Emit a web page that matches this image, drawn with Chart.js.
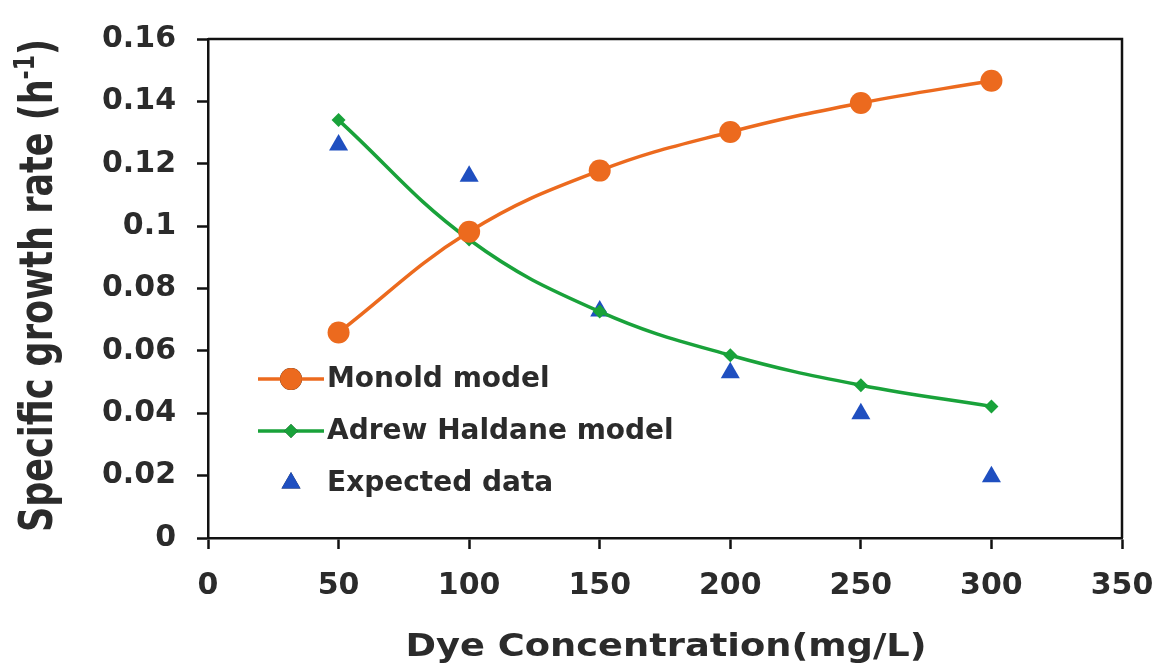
<!DOCTYPE html>
<html>
<head>
<meta charset="utf-8">
<script src="https://cdn.jsdelivr.net/npm/chart.js@4/dist/chart.umd.min.js"></script>
<style>
  html, body { margin: 0; padding: 0; background: #fff; }
  #wrap { width: 1157px; height: 664px; position: relative; }
</style>
</head>
<body>
<div id="wrap"><canvas id="growthChart"></canvas></div>
<script>
const concentrations = [50, 100, 150, 200, 250, 300];
const monodRates = [0.0659, 0.0982, 0.1178, 0.1302, 0.1395, 0.1466];
const haldaneRates = [0.134, 0.0957, 0.0726, 0.0586, 0.049, 0.0422];
const expectedRates = [0.126, 0.116, 0.0728, 0.053, 0.0398, 0.0196];
const seriesLabels = ['Monold model', 'Adrew Haldane model', 'Expected data'];
const yTitleParts = ['Specific growth rate (h', '-1', ')'];
const xTitle = 'Dye Concentration(mg/L)';

const toPoints = (values) => concentrations.map((x, i) => ({ x, y: values[i] }));

const textColor = '#2b2b2b';
const fontFamily = '"DejaVu Sans", "Liberation Sans", Arial, sans-serif';

// box around the plot, legend inside it, axis titles
const framePlugin = {
  id: 'frame',
  afterDraw(chart) {
    const { ctx, chartArea } = chart;
    ctx.save();
    ctx.strokeStyle = '#111';
    ctx.lineWidth = 2.5;
    ctx.beginPath();
    ctx.moveTo(chartArea.left, chartArea.top);
    ctx.lineTo(chartArea.right, chartArea.top);
    ctx.lineTo(chartArea.right, chartArea.bottom);
    ctx.stroke();

    const rowStart = chartArea.top + 340;
    const rowGap = 52;
    chart.data.datasets.forEach((ds, i) => {
      const y = rowStart + i * rowGap;
      const x0 = chartArea.left + 50;
      const x1 = chartArea.left + 116;
      const cx = (x0 + x1) / 2;
      if (ds.showLine !== false) {
        ctx.strokeStyle = ds.borderColor;
        ctx.lineWidth = 3.5;
        ctx.beginPath();
        ctx.moveTo(x0, y);
        ctx.lineTo(x1, y);
        ctx.stroke();
      }
      Chart.helpers.drawPoint(ctx, {
        pointStyle: ds.pointStyle,
        radius: ds.pointRadius,
        borderWidth: 0
      }, cx, y);
      ctx.fillStyle = ds.pointBackgroundColor;
      ctx.fill();
      ctx.fillStyle = textColor;
      ctx.font = 'bold 28px ' + fontFamily;
      ctx.textBaseline = 'middle';
      ctx.textAlign = 'left';
      ctx.fillText(ds.label, x1 + 3, y + 1);
    });

    // x axis title, a little wider than the font
    ctx.save();
    ctx.font = 'bold 32px ' + fontFamily;
    ctx.fillStyle = textColor;
    ctx.textAlign = 'center';
    ctx.textBaseline = 'alphabetic';
    ctx.translate(666, 656);
    ctx.scale(1.15, 1);
    ctx.fillText(xTitle, 0, 0);
    ctx.restore();

    // y axis title with superscript
    const mainFont = 'bold 35px ' + fontFamily;
    const supFont = 'bold 22px ' + fontFamily;
    ctx.font = mainFont;
    const w0 = ctx.measureText(yTitleParts[0]).width;
    const w2 = ctx.measureText(yTitleParts[2]).width;
    ctx.font = supFont;
    const w1 = ctx.measureText(yTitleParts[1]).width;
    const total = w0 + w1 + w2;
    const midY = (chartArea.top + chartArea.bottom) / 2;
    ctx.translate(52, midY - 3);
    ctx.rotate(-Math.PI / 2);
    ctx.scale(1, 1.3);
    ctx.textAlign = 'left';
    ctx.textBaseline = 'alphabetic';
    ctx.fillStyle = textColor;
    let x = -total / 2;
    ctx.font = mainFont;
    ctx.fillText(yTitleParts[0], x, 0);
    x += w0;
    ctx.font = supFont;
    ctx.fillText(yTitleParts[1], x, -14);
    x += w1;
    ctx.font = mainFont;
    ctx.fillText(yTitleParts[2], x, 0);
    ctx.restore();
  }
};

new Chart(document.getElementById('growthChart'), {
  type: 'scatter',
  data: {
    datasets: [
      {
        label: seriesLabels[0],
        data: toPoints(monodRates),
        showLine: true,
        tension: 0.4,
        borderColor: '#ec6a1e',
        backgroundColor: '#ec6a1e',
        pointBackgroundColor: '#ec6a1e',
        pointBorderWidth: 0,
        pointStyle: 'circle',
        pointRadius: 11,
        borderWidth: 3.5
      },
      {
        label: seriesLabels[1],
        data: toPoints(haldaneRates),
        showLine: true,
        tension: 0.4,
        borderColor: '#19a23a',
        backgroundColor: '#19a23a',
        pointBackgroundColor: '#19a23a',
        pointBorderWidth: 0,
        pointStyle: 'rectRot',
        pointRadius: 7,
        borderWidth: 3.5
      },
      {
        label: seriesLabels[2],
        data: toPoints(expectedRates),
        showLine: false,
        borderColor: '#1f4fc0',
        backgroundColor: '#1f4fc0',
        pointBackgroundColor: '#1f4fc0',
        pointBorderWidth: 0,
        pointStyle: 'triangle',
        pointRadius: 11
      }
    ]
  },
  options: {
    responsive: true,
    maintainAspectRatio: false,
    animation: false,
    layout: { padding: { left: 10, right: 35, top: 28, bottom: 0 } },
    plugins: {
      legend: { display: false },
      tooltip: { enabled: false }
    },
    scales: {
      x: {
        type: 'linear',
        min: 0,
        max: 350,
        ticks: {
          stepSize: 50,
          color: textColor,
          font: { family: fontFamily, size: 30, weight: 'bold' },
          padding: 19,
          maxRotation: 0
        },
        grid: { drawOnChartArea: false, tickLength: 11, color: '#111', tickWidth: 2.5 },
        border: { color: '#111', width: 2.5 },
        afterFit: (scale) => {
          scale.height = 126;
          scale.paddingLeft = 0;
          scale.paddingRight = 0;
        }
      },
      y: {
        min: 0,
        max: 0.16,
        ticks: {
          stepSize: 0.02,
          color: textColor,
          font: { family: fontFamily, size: 30, weight: 'bold' },
          padding: 21,
          callback: (value) => String(Number(value.toFixed(2)))
        },
        grid: { drawOnChartArea: false, tickLength: 11, color: '#111', tickWidth: 2.5 },
        border: { color: '#111', width: 2.5 },
        afterFit: (scale) => { scale.width = 198; }
      }
    }
  },
  plugins: [framePlugin]
});
</script>
</body>
</html>
